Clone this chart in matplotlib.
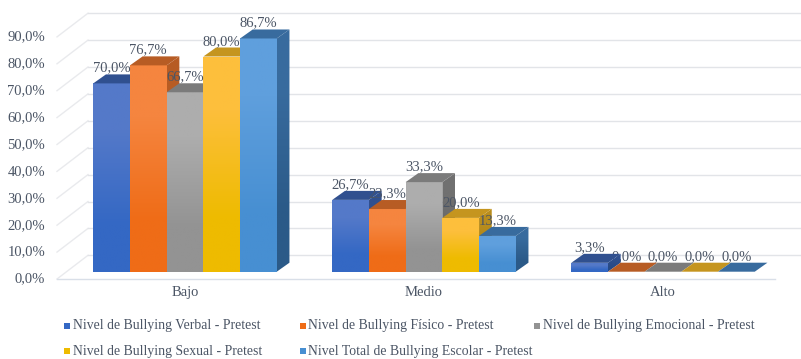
import matplotlib
matplotlib.use("Agg")
import matplotlib.pyplot as plt
import matplotlib.colors as mcolors
import numpy as np
from matplotlib.patches import Polygon, Rectangle

plt.rcParams["font.family"] = ["Liberation Serif", "DejaVu Serif"]

categories = ["Bajo", "Medio", "Alto"]
series_names = [
    "Nivel de Bullying Verbal - Pretest",
    "Nivel de Bullying Físico - Pretest",
    "Nivel de Bullying Emocional - Pretest",
    "Nivel de Bullying Sexual - Pretest",
    "Nivel Total de Bullying Escolar - Pretest",
]
verbal = [70.0, 26.7, 3.3]
fisico = [76.7, 23.3, 0.0]
emocional = [66.7, 33.3, 0.0]
sexual = [80.0, 20.0, 0.0]
total = [86.7, 13.3, 0.0]
y_ticks = [0, 10, 20, 30, 40, 50, 60, 70, 80, 90]

# (front top, front bottom, top face, side top, side bottom)
palette = [
    ("#5479c9", "#3468c4", "#30508f", "#30508f", "#264a86"),
    ("#f5853f", "#ef6c17", "#b75c24", "#b75c24", "#a9521c"),
    ("#adadad", "#939393", "#7b7b7b", "#707070", "#636363"),
    ("#fdbf3c", "#eebb00", "#c5951f", "#b98d1d", "#a97f10"),
    ("#5f9fdd", "#478fd2", "#386b9e", "#386b9e", "#2b5a88"),
]

W, H = 801, 359
PX_X = 239.0   # pixels per category
PX_Y = 2.69    # pixels per percentage point
GROUP0 = 185.0
BASE = 271.7
BAR_W = 36.7 / PX_X
BAR_DX, BAR_DY = 12.7 / PX_X, 9.0 / PX_Y
FRONT_DY = -7.3 / PX_Y
BACK_DY = 16.4 / PX_Y
WALL_L, WALL_B, WALL_R = 88.0, 57.0, 801.0
TEXT = "#4b5565"
GRID = "#e2e4e8"


def xd(px):
    return (px - GROUP0) / PX_X


fig = plt.figure(figsize=(W / 100, H / 100), dpi=100)
ax = fig.add_axes([0, 0, 1, 1])
ax.set_axis_off()
xlim = (xd(0), xd(W))
ylim = (-(H - BASE) / PX_Y, BASE / PX_Y)


def gradient_face(points, top_color, bottom_color, z):
    pts = np.array(points)
    rgb = np.array([mcolors.to_rgb(top_color), mcolors.to_rgb(bottom_color)])[:, None, :]
    ext = [pts[:, 0].min(), pts[:, 0].max(), pts[:, 1].min(), pts[:, 1].max()]
    if ext[3] - ext[2] < 1e-6:
        return
    im = ax.imshow(rgb, extent=ext, origin="upper", aspect="auto",
                   interpolation="bilinear", zorder=z)
    im.set_clip_path(Polygon(pts, closed=True, transform=ax.transData))


# back wall and floor grid
for t in y_ticks:
    ax.plot([xd(WALL_B), xd(WALL_L)], [t + FRONT_DY, t + BACK_DY], color="#e9eaed", lw=1, zorder=1)
    ax.plot([xd(WALL_L), xd(WALL_R)], [t + BACK_DY, t + BACK_DY], color=GRID, lw=1, zorder=1)
    ax.text(xd(45), t + FRONT_DY, f"{t:.1f}%".replace(".", ","), ha="right", va="center",
            fontsize=10.5, color=TEXT, zorder=20)
ax.plot([xd(WALL_B), xd(775)], [FRONT_DY, FRONT_DY], color="#d9dfe8", lw=1, zorder=1)

# bars, drawn left to right so each one covers its neighbour's side face
values = [verbal, fisico, emocional, sexual, total]
z = 2
for g, cat in enumerate(categories):
    left = g - 2.5 * BAR_W
    ax.text(g, (BASE - 292.5) / PX_Y, cat, ha="center", va="center", fontsize=10.5, color=TEXT, zorder=20)
    for s, vals in enumerate(values):
        v = vals[g]
        x0 = left + s * BAR_W
        x1 = x0 + BAR_W
        c = palette[s]
        gradient_face([(x1, 0), (x1 + BAR_DX, BAR_DY), (x1 + BAR_DX, v + BAR_DY), (x1, v)], c[3], c[4], z)
        gradient_face([(x0, 0), (x1, 0), (x1, v), (x0, v)], c[0], c[1], z + 1)
        ax.add_patch(Polygon([(x0, v), (x1, v), (x1 + BAR_DX, v + BAR_DY), (x0 + BAR_DX, v + BAR_DY)],
                             closed=True, fc=c[2], ec="none", zorder=z + 1))
        ax.text((x0 + x1) / 2, v + 15.3 / PX_Y, f"{v:.1f}%".replace(".", ","), ha="center", va="center",
                fontsize=10.5, color=TEXT, zorder=20)
        z += 2

ax.set_xlim(*xlim)
ax.set_ylim(*ylim)

# legend laid out by hand in three equal columns
col_x = [64.0, 299.5, 534.0]
row_y = [325.7, 351.0]
for i, name in enumerate(series_names):
    lx = col_x[i % 3]
    ly = row_y[i // 3]
    fig.add_artist(Rectangle((lx / W, 1 - (ly + 3.2) / H), 6.4 / W, 6.4 / H,
                             transform=fig.transFigure, fc=palette[i][1], ec="none"))
    fig.text((lx + 8.6) / W, 1 - ly / H, name, ha="left", va="center", fontsize=9.9, color=TEXT)

fig.savefig("out.png", dpi=100)
